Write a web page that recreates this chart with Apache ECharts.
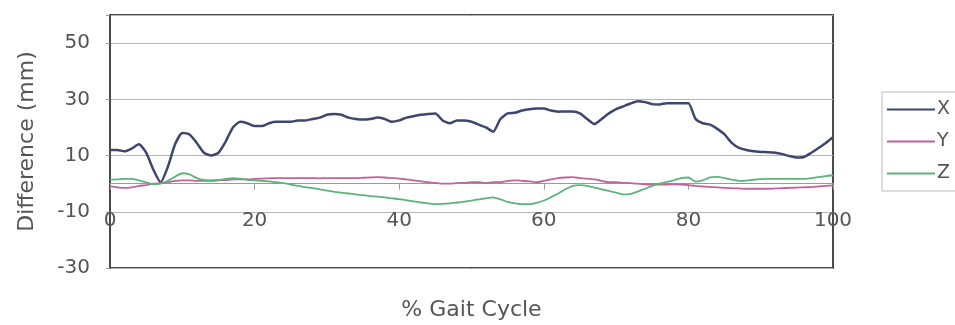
<!DOCTYPE html>
<html>
<head>
<meta charset="utf-8">
<script src="https://cdn.jsdelivr.net/npm/echarts@6/dist/echarts.min.js"></script>
<style>html,body{margin:0;padding:0;background:#fff;}#c{width:955px;height:325px;}</style>
</head>
<body>
<div id="c"></div>
<script>
// % Gait Cycle (0..100)
const gaitCycle = [];
for (let i = 0; i <= 100; i++) gaitCycle.push(i);

const seriesNames = ['X', 'Y', 'Z'];

const xValues = [12,12,11.5,12.5,14,11,5,0.5,6,14,18,17.5,14.5,11,10,11,15,20,22,21.5,
  20.5,20.5,21.5,22,22,22,22.5,22.5,23,23.5,24.5,24.8,24.5,23.5,23,22.8,23,23.5,23,22,
  22.5,23.5,24,24.5,24.8,25,22.5,21.5,22.5,22.5,22,21,20,18.5,23,25,25.2,26,26.5,26.7,
  26.7,26,25.6,25.7,25.7,25,23,21.2,23,25,26.5,27.5,28.5,29.3,29,28.3,28.2,28.6,28.6,28.6,
  28.6,23,21.5,21,19.5,17.5,14.5,12.7,12,11.5,11.3,11.2,11,10.5,9.8,9.3,9.5,11,12.7,14.5,16.5];

const yValues = [-1,-1.3,-1.5,-1.3,-0.8,-0.5,0,0.2,0.5,1,1.2,1.2,1,1,1,1.2,1.3,1.5,1.5,1.5,
  1.7,1.8,1.9,2,2,2,2,2,2,1.9,2,2,2,2,2,2.1,2.2,2.3,2.2,2,
  1.8,1.5,1.2,0.8,0.5,0.3,0,0,0.2,0.3,0.5,0.5,0.3,0.5,0.5,1,1.2,1,0.8,0.5,
  1,1.5,2,2.2,2.3,2,1.8,1.5,1,0.5,0.5,0.3,0.2,0,-0.2,-0.3,-0.3,-0.3,-0.2,-0.3,
  -0.5,-0.8,-1,-1.2,-1.3,-1.5,-1.6,-1.7,-1.8,-1.8,-1.8,-1.8,-1.7,-1.6,-1.5,-1.4,-1.3,-1.2,-1,-0.8,-0.6];

const zValues = [1.4,1.5,1.7,1.7,1.2,0.5,-0.2,0,1,2.5,3.7,3.3,2,1.3,1.2,1.3,1.7,2,1.8,1.4,
  1.2,1,0.8,0.5,0.2,-0.3,-0.8,-1.2,-1.6,-2,-2.5,-2.9,-3.2,-3.5,-3.8,-4.1,-4.4,-4.6,-4.9,-5.2,
  -5.5,-5.9,-6.3,-6.7,-7,-7.3,-7.2,-7,-6.7,-6.4,-6,-5.6,-5.2,-4.9,-5.6,-6.5,-7,-7.3,-7.3,-6.8,
  -6,-4.8,-3.5,-2,-0.8,-0.5,-0.8,-1.4,-2,-2.6,-3.2,-3.8,-3.6,-2.8,-1.8,-0.8,0,0.6,1.2,2,
  2.2,0.7,1.2,2.2,2.4,2,1.4,1,1.1,1.4,1.6,1.7,1.7,1.7,1.7,1.7,1.7,2,2.3,2.7,3];

const yTicks = [-30, -10, 10, 30, 50];
const xTicks = [0, 20, 40, 60, 80, 100];
const yMin = -30, yMax = 60;

function pairs(vals) { return gaitCycle.map((g, i) => [g, vals[i]]); }

const FONT = 'DejaVu Sans';
const gridTop = 15, gridBottom = 57, H = 325;
const plotH = H - gridTop - gridBottom;
// shift x-axis up so it crosses the y axis at value 0
const zeroOffset = -plotH * (0 - yMin) / (yMax - yMin);

const chart = echarts.init(document.getElementById('c'), null, {renderer: 'canvas'});
chart.setOption({
  animation: false,
  backgroundColor: '#ffffff',
  grid: {left: 110, right: 122, top: gridTop, bottom: gridBottom, show: true, borderColor: '#4a4a4a', borderWidth: 2,
    containLabel: false, outerBoundsMode: 'none'},
  xAxis: {
    type: 'value', min: 0, max: 100, interval: 20,
    position: 'bottom', offset: zeroOffset,
    name: '% Gait Cycle', nameLocation: 'middle', nameGap: 116,
    nameTextStyle: {fontFamily: FONT, fontSize: 22, color: '#555'},
    axisLine: {onZero: false, lineStyle: {color: '#9a9a9a', width: 1}},
    axisTick: {show: true, inside: false, length: 6, lineStyle: {color: '#999'}},
    axisLabel: {fontFamily: FONT, fontSize: 20, color: '#555', margin: 27,
      formatter: v => xTicks.includes(v) ? String(v) : ''},
    splitLine: {show: false}
  },
  yAxis: {
    type: 'value', min: yMin, max: yMax, interval: 20,
    name: 'Difference (mm)', nameLocation: 'middle', nameGap: 72, nameRotate: 90,
    nameTextStyle: {fontFamily: FONT, fontSize: 22, color: '#555'},
    axisLine: {show: true, onZero: false, lineStyle: {color: '#4a4a4a', width: 2}},
    axisTick: {show: true, length: 4, lineStyle: {color: '#999'}},
    axisLabel: {fontFamily: FONT, fontSize: 20, color: '#555', margin: 20,
      formatter: v => yTicks.includes(v) ? String(v) : ''},
    splitLine: {show: true, lineStyle: {color: '#b5b5b5', width: 1}}
  },
  legend: {
    orient: 'vertical', left: 882, top: 92,
    data: seriesNames,
    icon: 'rect', itemWidth: 48, itemHeight: 2, itemGap: 13,
    borderColor: '#bbb', borderWidth: 1, padding: [8, 30, 8, 5],
    textStyle: {fontFamily: FONT, fontSize: 19, color: '#555', padding: [0, 0, 0, -3]}
  },
  series: [
    {name: seriesNames[0], type: 'line', data: pairs(xValues), showSymbol: false, symbol: 'none', smooth: 0.2,
      lineStyle: {color: '#3e4670', width: 2.5}, itemStyle: {color: '#3e4670'}},
    {name: seriesNames[1], type: 'line', data: pairs(yValues), showSymbol: false, symbol: 'none', smooth: 0.2,
      lineStyle: {color: '#c2649b', width: 1.8}, itemStyle: {color: '#c2649b'}},
    {name: seriesNames[2], type: 'line', data: pairs(zValues), showSymbol: false, symbol: 'none', smooth: 0.2,
      lineStyle: {color: '#5bb57a', width: 1.8}, itemStyle: {color: '#5bb57a'}}
  ]
});
</script>
</body>
</html>
